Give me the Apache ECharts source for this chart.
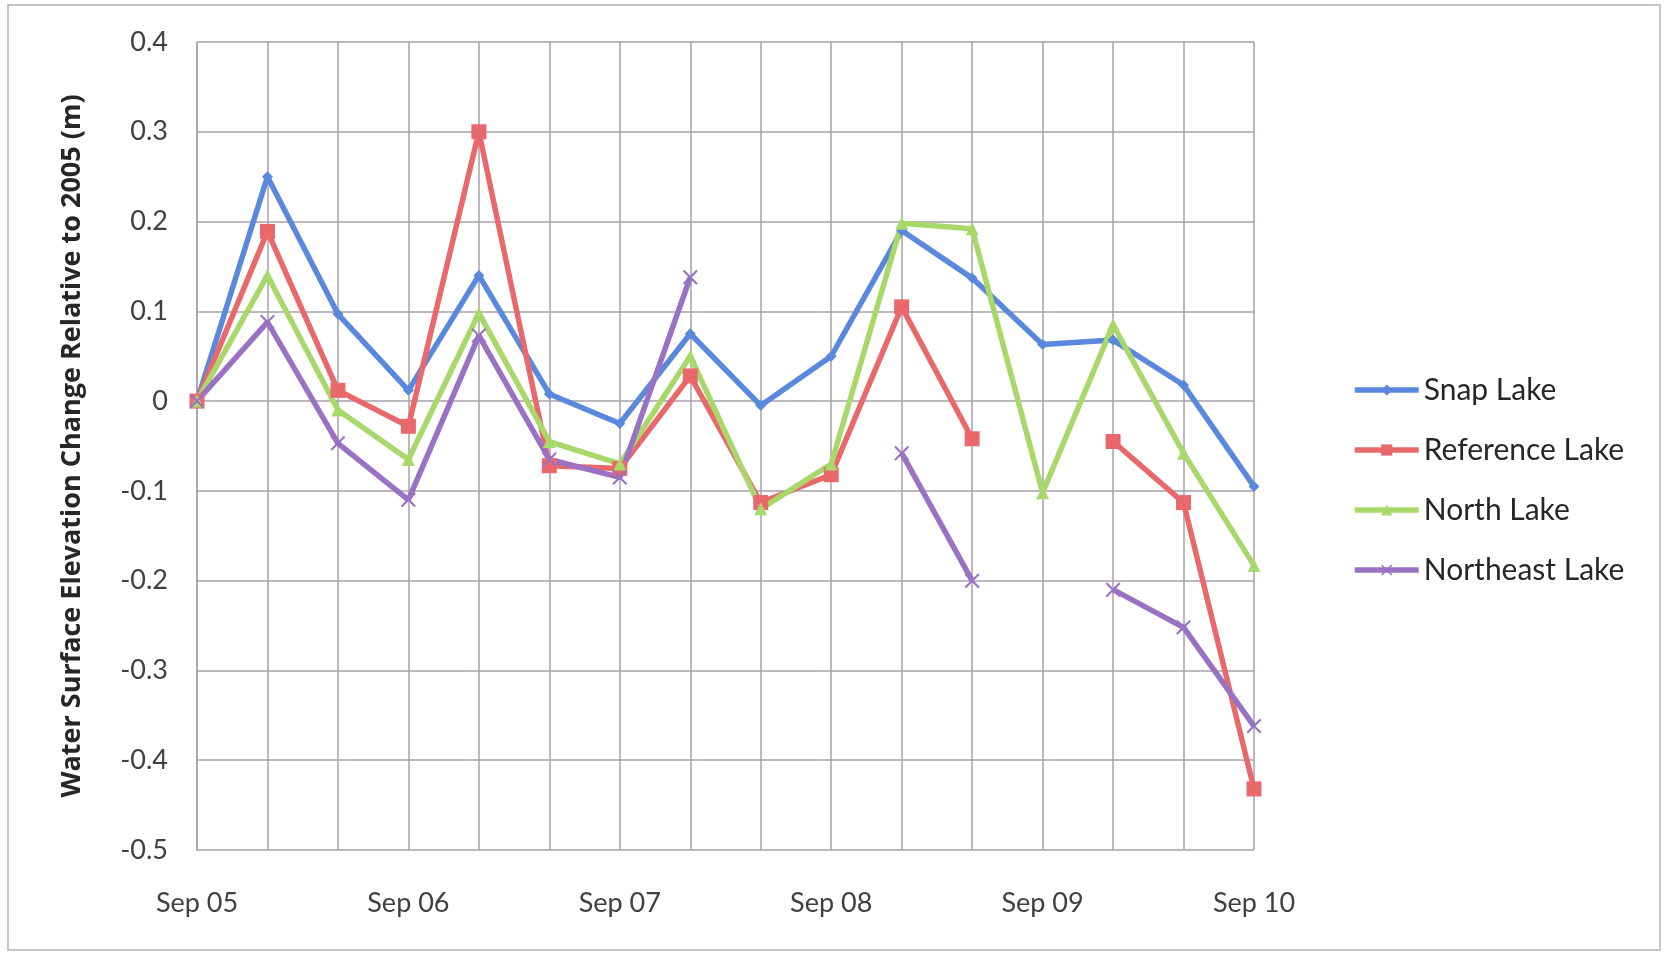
<!DOCTYPE html>
<html>
<head>
<meta charset="utf-8">
<title>Water Surface Elevation Change</title>
<script src="https://cdn.jsdelivr.net/npm/echarts@6/dist/echarts.min.js"></script>
<style>
  html, body { margin: 0; padding: 0; background: #ffffff; }
  #chart { width: 1667px; height: 953px; }
</style>
</head>
<body>
<div id="chart"></div>
<script>
// survey dates, three per year
const categories = [
  'Sep 05', 'Jan 06', 'May 06',
  'Sep 06', 'Jan 07', 'May 07',
  'Sep 07', 'Jan 08', 'May 08',
  'Sep 08', 'Jan 09', 'May 09',
  'Sep 09', 'Jan 10', 'May 10',
  'Sep 10'
];

// water surface elevation change relative to 2005 (m), null = no survey
const snapLake = [0, 0.25, 0.097, 0.012, 0.14, 0.008, -0.025, 0.075, -0.005, 0.05, 0.19, 0.137, 0.063, 0.068, 0.018, -0.095];
const referenceLake = [0, 0.189, 0.012, -0.028, 0.30, -0.072, -0.075, 0.028, -0.113, -0.082, 0.105, -0.042, null, -0.045, -0.113, -0.432];
const northLake = [0, 0.14, -0.01, -0.065, 0.098, -0.045, -0.07, 0.05, -0.12, -0.07, 0.198, 0.192, -0.102, 0.085, -0.058, -0.183];
const northeastLake = [0, 0.088, -0.047, -0.11, 0.073, -0.065, -0.085, 0.138, null, null, -0.058, -0.2, null, -0.21, -0.252, -0.362];

const seriesNames = ['Snap Lake', 'Reference Lake', 'North Lake', 'Northeast Lake'];

const yTickMin = -0.5;
const yTickMax = 0.4;
const yTickStep = 0.1;

const chart = echarts.init(document.getElementById('chart'));

const FONT = 'Lato';
const gridColor = '#a7a0aa';
const crossPath = 'path://M0,1 L1,0 L5,4 L9,0 L10,1 L6,5 L10,9 L9,10 L5,6 L1,10 L0,9 L4,5 Z';

const makeSeries = (name, data, color, symbol, size) => ({
  name: name,
  type: 'line',
  data: data,
  connectNulls: false,
  symbol: symbol,
  symbolSize: size,
  showAllSymbol: true,
  lineStyle: { color: color, width: 5.5 },
  itemStyle: { color: color },
  animation: false
});

const option = {
  backgroundColor: '#ffffff',
  graphic: [{
    type: 'rect',
    shape: { x: 8, y: 5, width: 1652, height: 945 },
    style: { fill: 'none', stroke: '#c8c4cc', lineWidth: 2 },
    silent: true
  }],
  grid: {
    left: 197,
    right: 413,
    top: 42,
    bottom: 103
  },
  legend: {
    orient: 'vertical',
    left: 1347,
    top: 370,
    itemWidth: 64,
    itemHeight: 14,
    itemGap: 30,
    data: seriesNames,
    lineStyle: { width: 5.5 },
    textStyle: { fontFamily: FONT, fontSize: 30, color: '#262626', padding: [0, 0, 0, 0] }
  },
  xAxis: {
    type: 'category',
    data: categories,
    boundaryGap: false,
    axisLine: { show: false },
    axisTick: { show: false },
    axisLabel: {
      interval: 2,
      margin: 40,
      fontFamily: FONT,
      fontSize: 27,
      color: '#404040'
    },
    splitLine: { show: true, interval: 0, lineStyle: { color: gridColor, width: 1.5 } }
  },
  yAxis: {
    type: 'value',
    min: yTickMin,
    max: yTickMax,
    interval: yTickStep,
    name: 'Water Surface Elevation Change Relative to 2005 (m)',
    nameLocation: 'middle',
    nameRotate: 90,
    nameGap: 111,
    nameTextStyle: { fontFamily: 'Open Sans', fontSize: 27, fontWeight: 'bold', color: '#262626' },
    axisLine: { show: true, lineStyle: { color: gridColor, width: 1.5 } },
    axisTick: { show: false },
    axisLabel: {
      margin: 29,
      fontFamily: FONT,
      fontSize: 27,
      color: '#404040',
      formatter: v => Math.abs(v) < 1e-9 ? '0' : v.toFixed(1)
    },
    splitLine: { show: true, lineStyle: { color: gridColor, width: 1.5 } }
  },
  series: [
    makeSeries(seriesNames[0], snapLake, '#5a88dc', 'diamond', 11),
    makeSeries(seriesNames[1], referenceLake, '#e8686b', 'rect', 15),
    makeSeries(seriesNames[2], northLake, '#a9d86a', 'triangle', 13),
    makeSeries(seriesNames[3], northeastLake, '#9a72c4', crossPath, 15)
  ]
};

chart.setOption(option);
</script>
</body>
</html>
